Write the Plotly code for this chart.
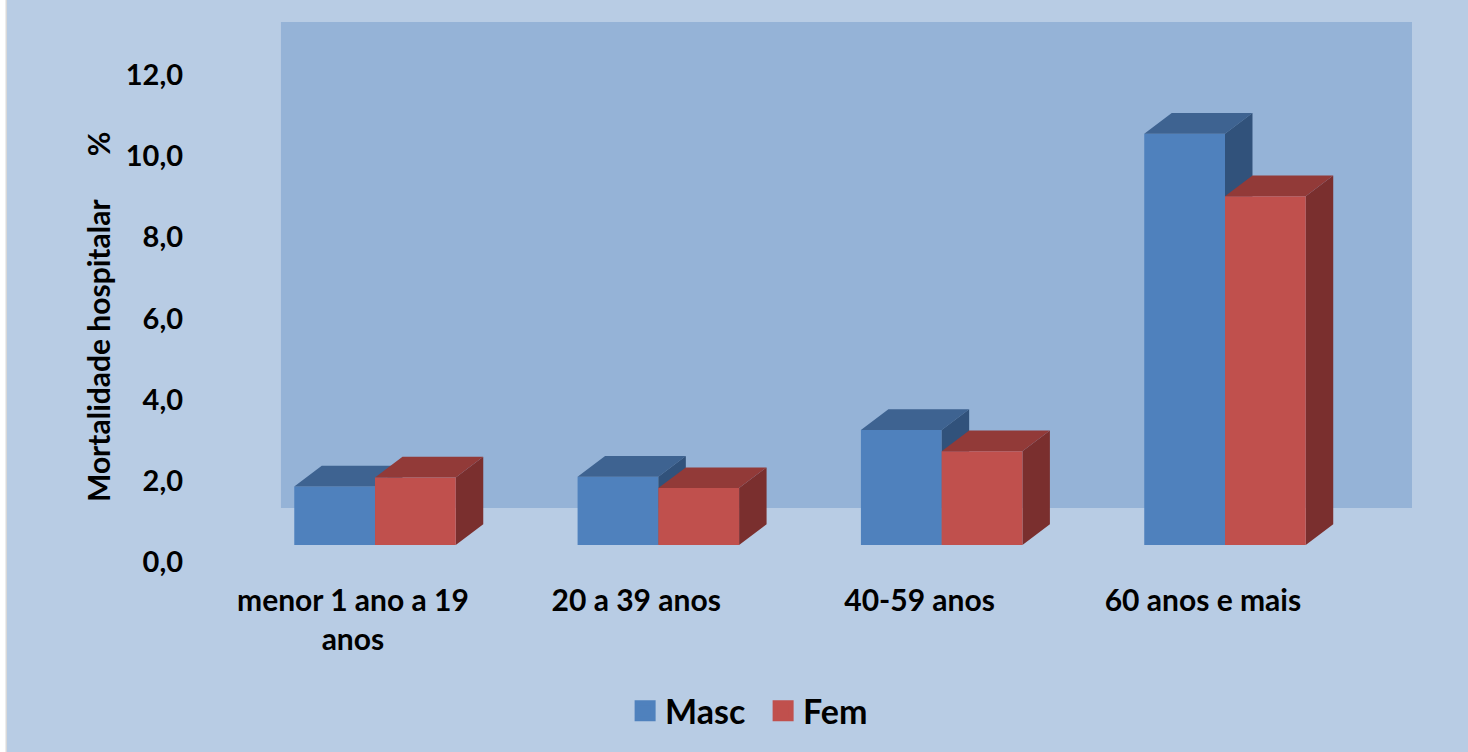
import plotly.graph_objects as go

# data
categories = ["menor 1 ano a 19<br>anos", "20 a 39 anos", "40-59 anos", "60 anos e mais"]
masc = [1.86, 2.1, 3.25, 10.55]
fem = [2.08, 1.82, 2.73, 9.01]
y_ticks = [0, 2, 4, 6, 8, 10, 12]

# pseudo-3d geometry, in axis units
FLOOR = 0.42  # front of the bars sits above the 0,0 label
WALL_BOTTOM = 1.33
BAR_W = 0.285
DX = 0.097
DY = 0.51
LABEL_SHIFT = 0.078

BG = '#B8CCE4'
WALL = '#95B3D7'
FONT = 'Lato, Carlito, sans-serif'

positions = list(range(len(categories)))


def faces(values, offset):
    # top and side polygons for one series, gaps between bars with None
    top_x, top_y, side_x, side_y = [], [], [], []
    for pos, val in zip(positions, values):
        x0 = pos + offset
        x1 = x0 + BAR_W
        top_x += [x0, x1, x1 + DX, x0 + DX, x0, None]
        top_y += [val, val, val + DY, val + DY, val, None]
        side_x += [x1, x1 + DX, x1 + DX, x1, x1, None]
        side_y += [FLOOR, FLOOR + DY, val + DY, val, FLOOR, None]
    return top_x, top_y, side_x, side_y


def face_trace(x, y, color):
    return go.Scatter(x=x, y=y, mode='lines', fill='toself', fillcolor=color,
                      line=dict(width=0), showlegend=False, hoverinfo='skip')


def front_bar(values, offset, color, **kw):
    return go.Bar(x=[p + offset + BAR_W / 2 for p in positions],
                  y=[v - FLOOR for v in values], base=FLOOR, width=BAR_W,
                  marker=dict(color=color, line=dict(width=0)),
                  showlegend=False, **kw)


def legend_trace(name, color):
    return go.Scatter(x=[None], y=[None], mode='markers', name=name,
                      marker=dict(symbol='square', size=16, color=color,
                                  line=dict(color=color, width=5)))


m_top_x, m_top_y, m_side_x, m_side_y = faces(masc, -BAR_W)
f_top_x, f_top_y, f_side_x, f_side_y = faces(fem, 0)

fig = go.Figure()
fig.add_trace(front_bar(masc, -BAR_W, '#4F81BD', name='Masc'))
fig.add_trace(face_trace(m_top_x, m_top_y, '#3E6391'))
fig.add_trace(face_trace(m_side_x, m_side_y, '#31527B'))
fig.add_trace(face_trace(f_side_x, f_side_y, '#7A2F2E'))
fig.add_trace(face_trace(f_top_x, f_top_y, '#923A38'))
# fem fronts on an overlay so they cover the masc side faces
fig.add_trace(front_bar(fem, 0, '#C0504D', name='Fem', xaxis='x2', yaxis='y2'))
fig.add_trace(legend_trace('Masc', '#4F81BD'))
fig.add_trace(legend_trace('Fem', '#C0504D'))

x_range = [-0.653, 3.66]
y_range = [0, 13.3]

fig.update_layout(
    width=1468,
    height=752,
    autosize=False,
    margin=dict(l=190, r=56, t=22, b=190),
    paper_bgcolor=BG,
    plot_bgcolor=BG,
    separators=', ',
    font=dict(family=FONT, color='black', size=30, weight='bold'),
    xaxis=dict(range=x_range, tickmode='array',
               tickvals=[p - LABEL_SHIFT for p in positions],
               ticktext=categories, showgrid=False, zeroline=False,
               showline=False, ticks='', ticklabelstandoff=18),
    yaxis=dict(range=y_range, tickmode='array', tickvals=y_ticks,
               tickformat='.1f', showgrid=False, zeroline=False,
               showline=False, ticks='', ticklabelstandoff=6,
               tickfont=dict(size=29)),
    xaxis2=dict(range=x_range, overlaying='x', visible=False),
    yaxis2=dict(range=y_range, overlaying='y', visible=False),
    legend=dict(orientation='h', x=0.469, xanchor='center', y=-0.276,
                yanchor='middle', itemsizing='trace',
                entrywidth=93, entrywidthmode='pixels',
                font=dict(size=34, family=FONT, weight='bold')),
    shapes=[
        # back wall
        dict(type='rect', layer='below', xref='x', yref='y', x0=-0.332,
             x1=x_range[1], y0=WALL_BOTTOM, y1=y_range[1],
             fillcolor=WALL, line=dict(width=0)),
        # white strip on the left edge of the image
        dict(type='rect', xref='paper', yref='paper', x0=-190 / 1222,
             x1=-184 / 1222, y0=-190 / 540, y1=1 + 22 / 540,
             fillcolor='white', line=dict(width=0)),
        dict(type='rect', xref='paper', yref='paper', x0=-184.5 / 1222,
             x1=-183 / 1222, y0=-190 / 540, y1=1 + 22 / 540,
             fillcolor='#D9D9D9', line=dict(width=0)),
    ],
    annotations=[
        dict(text='Mortalidade hospitalar\u00a0\u00a0\u00a0\u00a0\u00a0\u00a0%',
             xref='paper', yref='paper', x=-92 / 1222, y=(562 - 317) / 540,
             xanchor='center', yanchor='middle', textangle=-90,
             showarrow=False, font=dict(size=30, family=FONT, weight='bold')),
    ],
)

fig.write_html("out.html", config=dict(displayModeBar=False),
               post_script="document.body.style.margin='0';")
